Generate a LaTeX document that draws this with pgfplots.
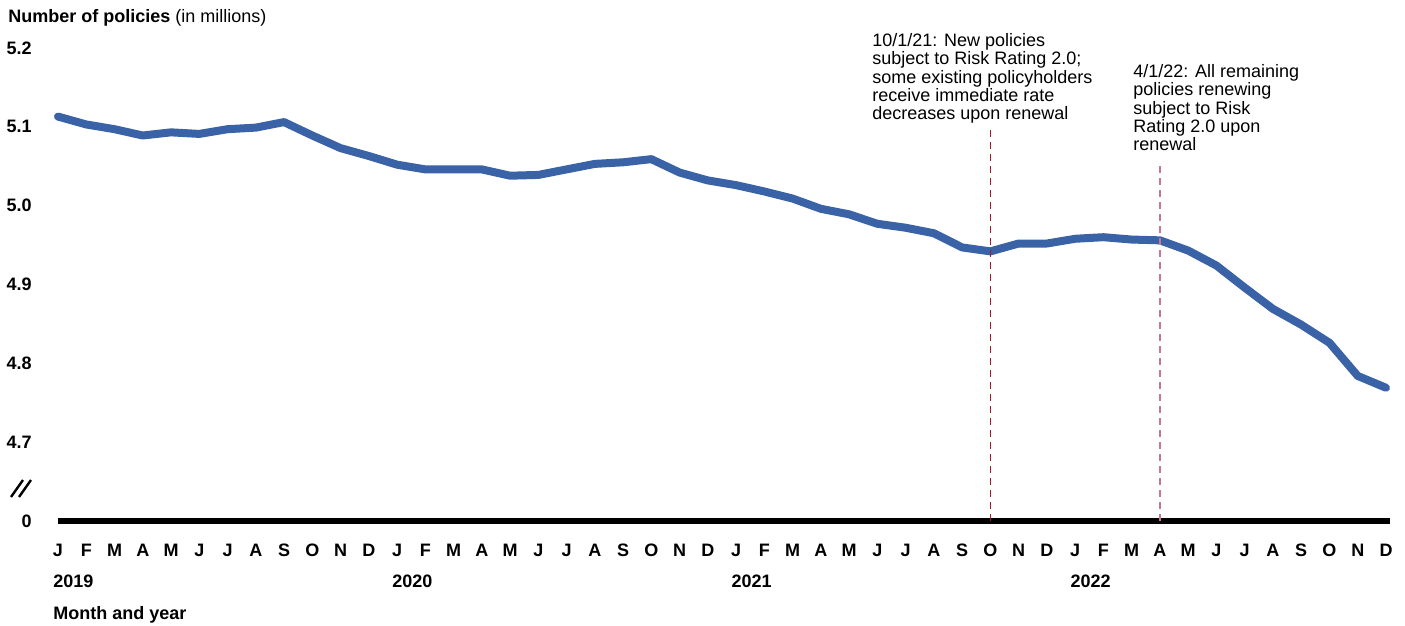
\documentclass[border=0pt]{standalone}
\usepackage{fontspec}
\setmainfont{Liberation Sans}
\usepackage{pgfplots}
\pgfplotsset{compat=1.18}
\definecolor{lineblue}{RGB}{58,99,167}
\definecolor{annred}{RGB}{166,25,46}
\definecolor{annpink}{RGB}{196,120,150}
\begin{document}
\begin{tikzpicture}[font=\fontsize{9}{9.15}\selectfont]
\path[use as bounding box] (-29pt,-52.5pt) rectangle (673.5pt,260.5pt);
\begin{axis}[
  at={(0pt,0pt)}, anchor=south west,
  scale only axis, width=664pt, height=236.5pt,
  xmin=0, xmax=47, ymin=4.6, ymax=5.2,
  clip=false,
  axis line style={draw=none},
  major tick length=0pt,
  /pgf/number format/assume math mode=true,
  ytick={4.6,4.7,4.8,4.9,5.0,5.1,5.2},
  yticklabels={0,4.7,4.8,4.9,5.0,5.1,5.2},
  yticklabel style={font=\fontsize{9}{9.15}\selectfont\bfseries, anchor=east, inner sep=0pt, xshift=-13pt},
  xtick={0,...,47},
  xticklabels={J,F,M,A,M,J,J,A,S,O,N,D,J,F,M,A,M,J,J,A,S,O,N,D,J,F,M,A,M,J,J,A,S,O,N,D,J,F,M,A,M,J,J,A,S,O,N,D},
  xticklabel style={font=\fontsize{9}{9.15}\selectfont\bfseries, anchor=base, inner sep=0pt, yshift=-18pt},
]
\draw[line width=3pt] (axis cs:0,4.6) -- (axis cs:47.15,4.6);
\addplot[color=lineblue, line width=4pt, line join=round, line cap=round] coordinates {
(0,5.113) (1,5.103) (2,5.097) (3,5.089) (4,5.093) (5,5.091) (6,5.097) (7,5.099)
(8,5.106) (9,5.089) (10,5.073) (11,5.063) (12,5.052) (13,5.046) (14,5.046) (15,5.046)
(16,5.038) (17,5.039) (18,5.046) (19,5.053) (20,5.055) (21,5.059) (22,5.042) (23,5.032)
(24,5.026) (25,5.018) (26,5.009) (27,4.996) (28,4.989) (29,4.977) (30,4.972) (31,4.965)
(32,4.947) (33,4.942) (34,4.952) (35,4.952) (36,4.958) (37,4.960) (38,4.957) (39,4.956)
(40,4.943) (41,4.924) (42,4.896) (43,4.869) (44,4.849) (45,4.826) (46,4.784) (47,4.769)
};
\addplot[color=annred, line width=0.7pt, dash pattern=on 3.5pt off 2.5pt] coordinates {(33,4.6) (33,5.096)};
\addplot[color=annpink, line width=0.7pt, dash pattern=on 3.5pt off 2.5pt] coordinates {(39,4.6) (39,5.054)};
\foreach \yr/\pos in {2019/0,2020/12,2021/24,2022/36}{
  \edef\tmp{\noexpand\node[anchor=base west, inner sep=0pt, font=\noexpand\fontsize{9}{9.15}\noexpand\selectfont\noexpand\bfseries, xshift=-2.5pt, yshift=-33.5pt] at (axis cs:\pos,4.6) {\yr};}
  \tmp
}
\node[anchor=base west, inner sep=0pt, font=\fontsize{9}{9.15}\selectfont\bfseries, xshift=-2.5pt, yshift=-49.5pt] at (axis cs:0,4.6) {Month and year};
\end{axis}
\node[anchor=base west, inner sep=0pt] at (-25pt,249pt) {\textbf{Number of policies} (in millions)};
\node[anchor=north west, inner sep=0pt, align=left] at (407pt,244pt) {10/1/21: New policies\\subject to Risk Rating 2.0;\\some existing policyholders\\receive immediate rate\\decreases upon renewal};
\node[anchor=north west, inner sep=0pt, align=left] at (537.5pt,228.5pt) {4/1/22: All remaining\\policies renewing\\subject to Risk\\Rating 2.0 upon\\renewal};
\draw[line width=1.2pt] (-23.5pt,12pt) -- (-17.5pt,20.5pt);
\draw[line width=1.2pt] (-19.5pt,12pt) -- (-13.5pt,20.5pt);
\end{tikzpicture}
\end{document}
